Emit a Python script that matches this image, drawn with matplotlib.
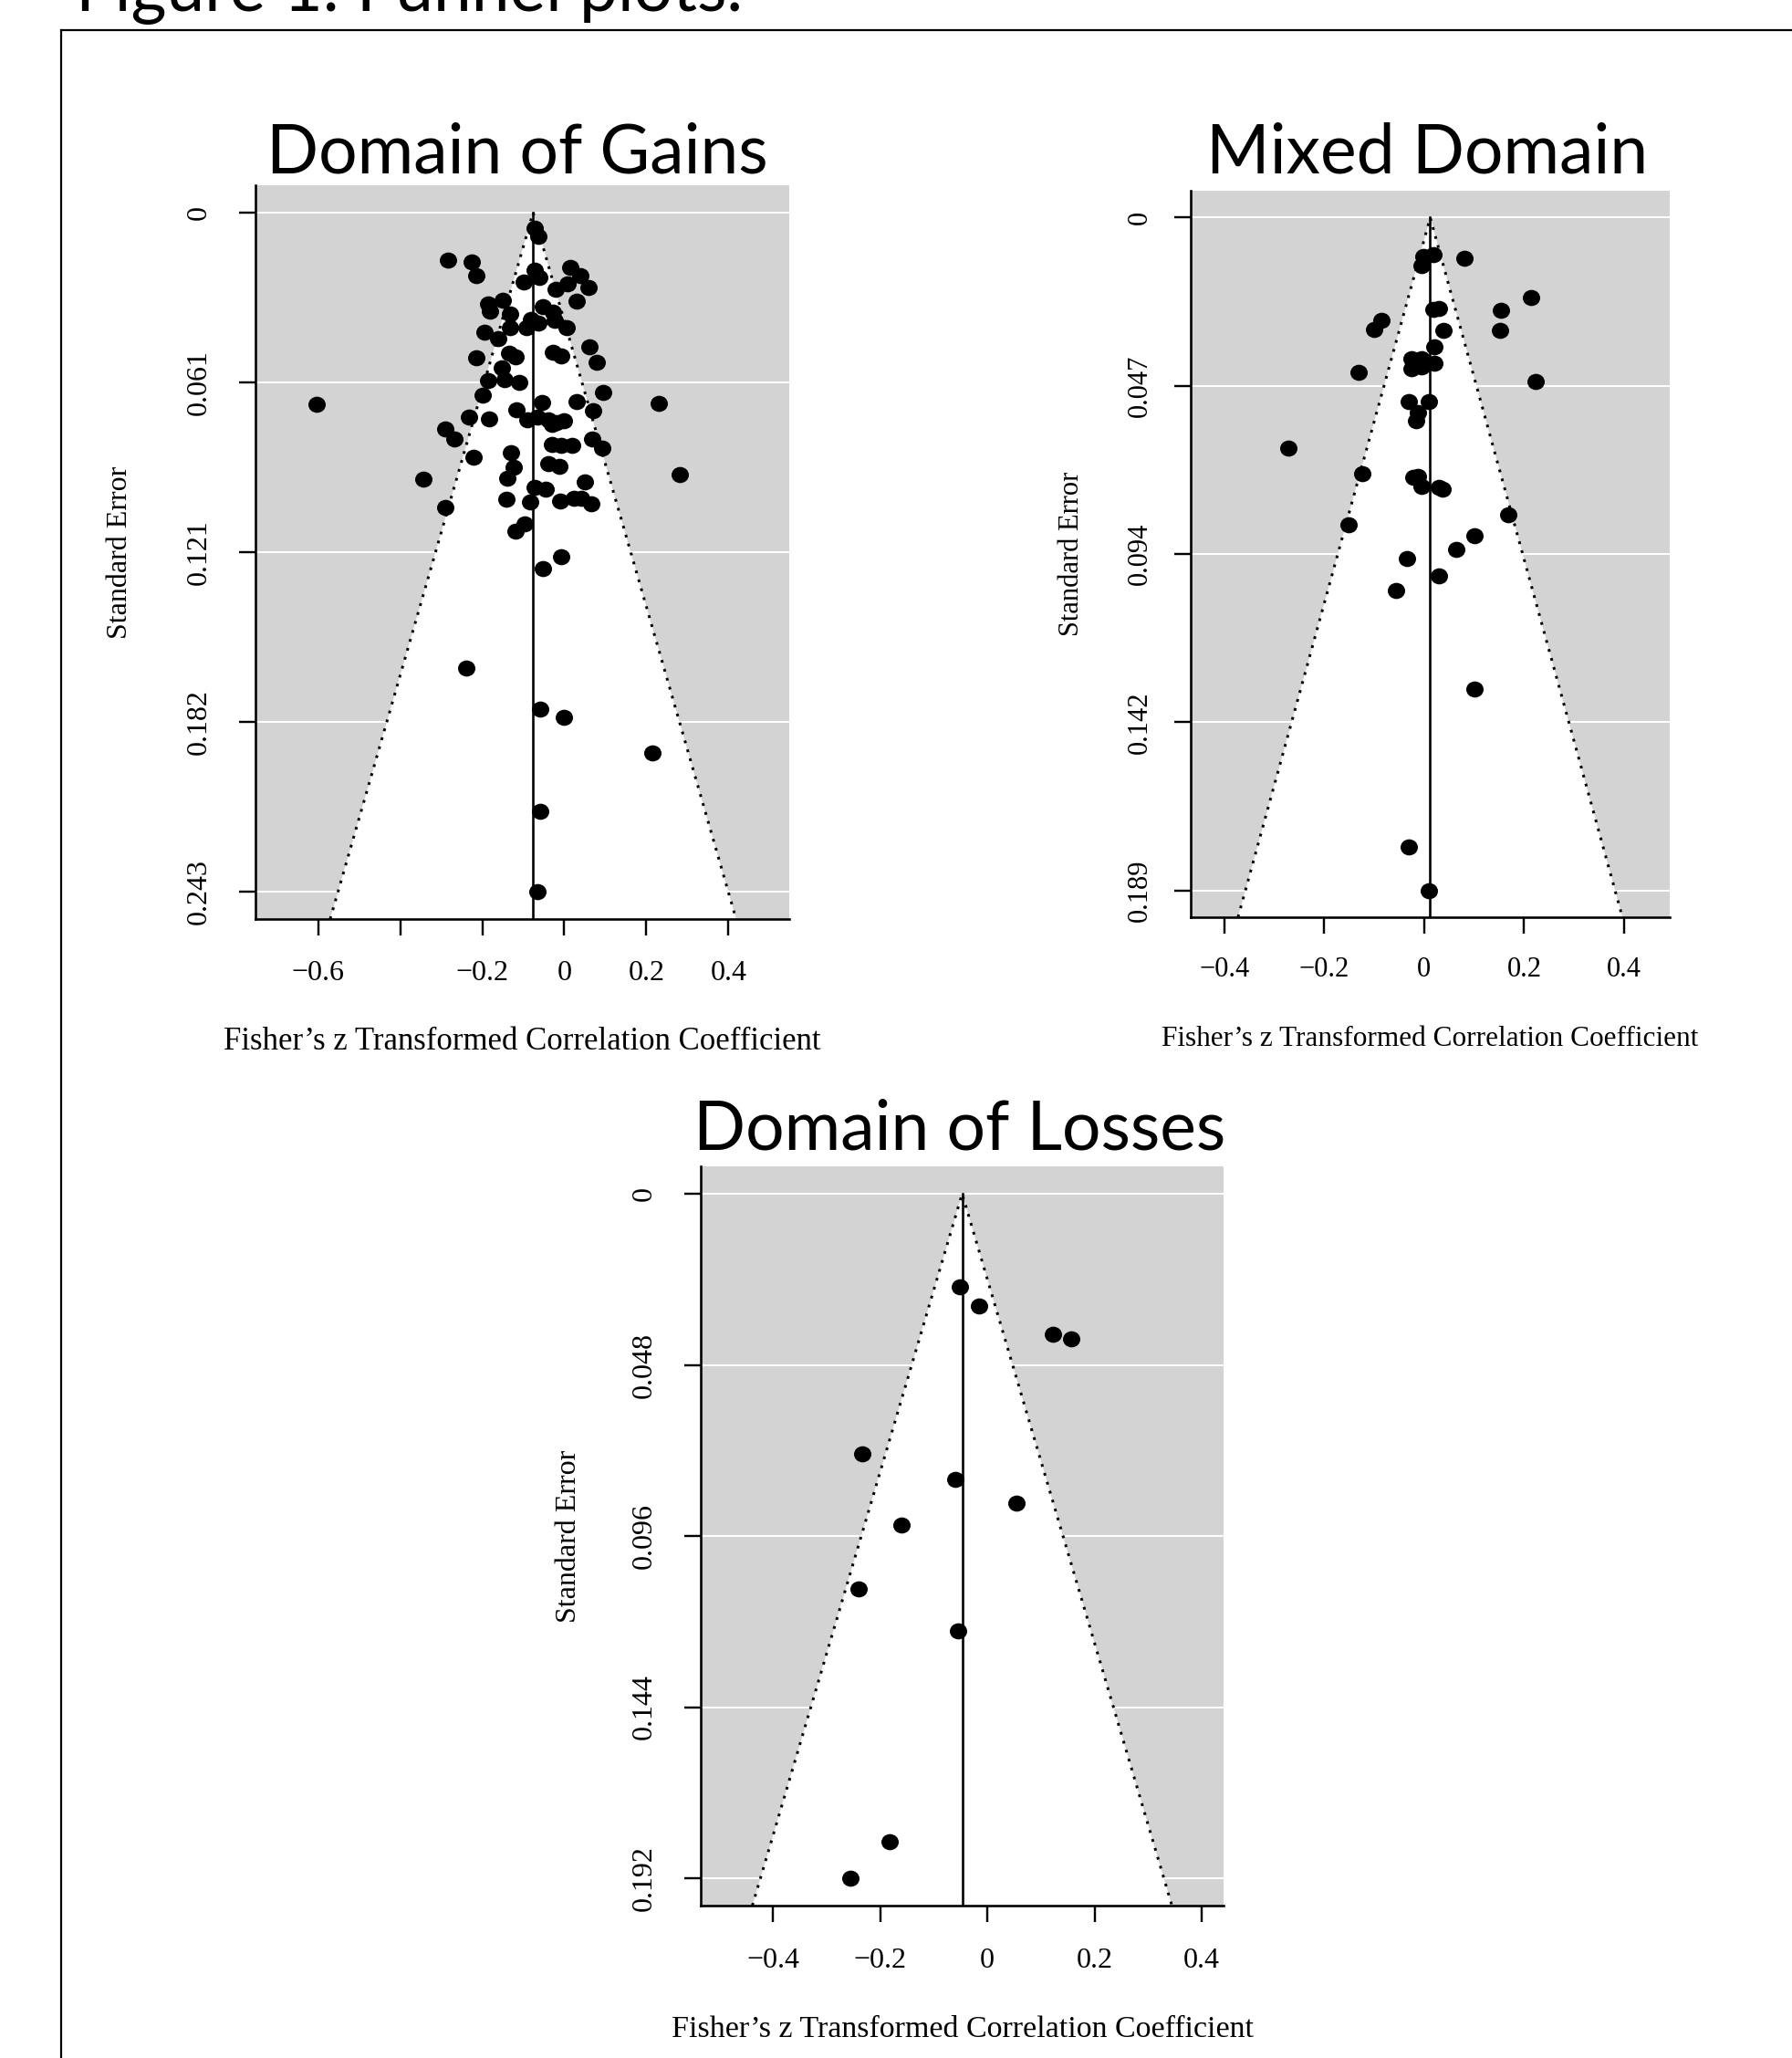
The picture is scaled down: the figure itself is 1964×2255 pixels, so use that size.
import numpy as np
import matplotlib
matplotlib.use("Agg")
import matplotlib.pyplot as plt
from matplotlib.path import Path
from matplotlib.transforms import Affine2D

# ---- data (Fisher's z, standard error) ----
gains_z = [-0.072, -0.063, -0.283, -0.226, -0.215, -0.072, -0.061, -0.098, 0.014, 0.040,
           0.058, 0.008, -0.020, 0.029, -0.185, -0.150, -0.181, -0.133, -0.052, -0.027,
           -0.081, -0.063, -0.092, -0.132, 0.005, -0.024, -0.195, -0.161, 0.062, 0.078,
           -0.027, -0.007, -0.215, -0.135, -0.118, -0.153, -0.185, -0.146, -0.111, 0.095,
           -0.198, -0.055, 0.030, 0.069, -0.116, -0.232, -0.183, -0.089, -0.066, -0.040,
           -0.018, 0.000, -0.030, -0.289, -0.267, 0.067, 0.093, -0.031, -0.007, 0.019,
           -0.222, -0.129, -0.040, -0.012, -0.123, -0.343, -0.139, 0.049, -0.072, -0.046,
           -0.142, -0.083, -0.011, 0.023, 0.041, 0.065, -0.291, -0.096, -0.118, -0.007,
           -0.052, -0.604, 0.230, 0.281, -0.240, -0.058, -0.002, 0.215, -0.058, -0.066]
gains_se = [0.0055, 0.0087, 0.0170, 0.0177, 0.0224, 0.0205, 0.0232, 0.0249, 0.0196, 0.0226,
            0.0267, 0.0256, 0.0275, 0.0317, 0.0325, 0.0315, 0.0354, 0.0361, 0.0338, 0.0357,
            0.0383, 0.0396, 0.0410, 0.0410, 0.0410, 0.0385, 0.0426, 0.0450, 0.0481, 0.0536,
            0.0500, 0.0511, 0.0519, 0.0503, 0.0514, 0.0556, 0.0601, 0.0598, 0.0607, 0.0642,
            0.0652, 0.0678, 0.0674, 0.0707, 0.0704, 0.0731, 0.0738, 0.0740, 0.0732, 0.0740,
            0.0750, 0.0743, 0.0758, 0.0773, 0.0809, 0.0809, 0.0841, 0.0830, 0.0833, 0.0831,
            0.0874, 0.0858, 0.0898, 0.0906, 0.0911, 0.0951, 0.0948, 0.0962, 0.0980, 0.0988,
            0.1024, 0.1035, 0.1030, 0.1022, 0.1022, 0.1041, 0.1052, 0.1111, 0.1137, 0.1229,
            0.1273, 0.0685, 0.0681, 0.0937, 0.1628, 0.1774, 0.1802, 0.1930, 0.2139, 0.2426]

mixed_z = [0.018, -0.001, -0.006, 0.080, 0.213, 0.153, 0.151, 0.018, 0.029, -0.086,
           -0.100, 0.039, 0.020, -0.025, -0.006, -0.025, -0.006, 0.020, -0.131, 0.223,
           -0.031, 0.010, -0.012, -0.017, -0.272, -0.124, -0.022, -0.012, -0.006, 0.029,
           0.037, 0.168, -0.151, 0.100, 0.064, -0.034, 0.029, -0.056, 0.100, -0.031, 0.010]
mixed_se = [0.0103, 0.0110, 0.0135, 0.0113, 0.0224, 0.0260, 0.0316, 0.0257, 0.0255, 0.0288,
            0.0314, 0.0317, 0.0362, 0.0396, 0.0395, 0.0423, 0.0419, 0.0408, 0.0435, 0.0459,
            0.0516, 0.0516, 0.0547, 0.0569, 0.0647, 0.0718, 0.0730, 0.0725, 0.0754, 0.0757,
            0.0762, 0.0833, 0.0862, 0.0894, 0.0932, 0.0957, 0.1005, 0.1047, 0.1323, 0.1765,
            0.1888]

losses_z = [-0.051, -0.015, 0.123, 0.157, -0.234, -0.060, 0.054, -0.160, -0.241, -0.054,
            -0.183, -0.255]
losses_se = [0.0260, 0.0316, 0.0394, 0.0407, 0.0729, 0.0801, 0.0868, 0.0929, 0.1109, 0.1226,
             0.1818, 0.1921]

# pooled estimates (reference lines)
gains_center = -0.076
mixed_center = 0.012
losses_center = -0.047

titles = ["Domain of Gains", "Mixed Domain", "Domain of Losses"]
gains_ylabels = ["0", "0.061", "0.121", "0.182", "0.243"]
mixed_ylabels = ["0", "0.047", "0.094", "0.142", "0.189"]
losses_ylabels = ["0", "0.048", "0.096", "0.144", "0.192"]
gains_xticks = [-0.6, -0.4, -0.2, 0, 0.2, 0.4]
gains_xlabels = ["\u22120.6", "", "\u22120.2", "0", "0.2", "0.4"]
other_xticks = [-0.4, -0.2, 0, 0.2, 0.4]
other_xlabels = ["\u22120.4", "\u22120.2", "0", "0.2", "0.4"]

W, H = 1965, 2255
SERIF = "Liberation Serif"
GRAY = "#d3d3d3"
PX = 72.0 / 100.0  # points per pixel

dot = Path.unit_circle().transformed(Affine2D().scale(1.0, 0.93))


def funnel(box, z, se, center, ylabels, xticks, xlabels, title, title_xy,
           tick_fs, label_fs, ypad_px, xpad_px, xlab_off, ylab_off):
    left, top, right, bottom = box
    ax = fig.add_axes([left / W, 1 - bottom / H, (right - left) / W, (bottom - top) / H])
    axw, axh = right - left, bottom - top
    z = np.asarray(z)
    se = np.asarray(se)
    se_max = se.max()

    # limits as metafor does it: funnel/data range + 10 %, then R's 4 %
    lo = min(center - 1.96 * se_max, z.min())
    hi = max(center + 1.96 * se_max, z.max())
    r = hi - lo
    lo, hi = lo - 0.1 * r, hi + 0.1 * r
    r = hi - lo
    ax.set_xlim(lo - 0.04 * r, hi + 0.04 * r)
    ybot = se_max * 1.04
    ax.set_ylim(ybot, -0.04 * se_max)

    ax.set_facecolor(GRAY)
    ax.fill([center, center - 1.96 * ybot, center + 1.96 * ybot],
            [0, ybot, ybot], color="white", lw=0, zorder=1)
    yt = np.linspace(0, se_max, 5)
    ax.hlines(yt, lo - r, hi + r, colors="white", lw=2 * PX, zorder=2)
    ax.plot([center - 1.96 * ybot, center, center + 1.96 * ybot], [ybot, 0, ybot],
            color="black", lw=3 * PX, ls=(0, (1, 2.4)), zorder=3)
    ax.plot([center, center], [0, ybot], color="black", lw=2.6 * PX, zorder=3)
    ax.scatter(z, se, s=(19 * PX) ** 2, marker=dot, color="black", lw=0, zorder=4,
               clip_on=False)

    for s in ("top", "right"):
        ax.spines[s].set_visible(False)
    for s in ("left", "bottom"):
        ax.spines[s].set_linewidth(2.6 * PX)
    ax.tick_params(axis="both", direction="out", length=18 * PX, width=2.4 * PX)
    ax.tick_params(axis="y", pad=(ypad_px - 18) * PX)
    ax.tick_params(axis="x", pad=(xpad_px - 18) * PX)

    ax.set_yticks(yt)
    ax.set_yticklabels(ylabels, rotation=90, va="center", ha="center",
                       family=SERIF, fontsize=tick_fs)
    ax.set_xticks(xticks)
    ax.set_xticklabels(xlabels, va="center", family=SERIF, fontsize=tick_fs)

    ax.set_xlabel("Fisher\u2019s z Transformed Correlation Coefficient",
                  family=SERIF, fontsize=label_fs, va="center")
    ax.xaxis.set_label_coords(0.5, -xlab_off / axh)
    ax.set_ylabel("Standard Error", family=SERIF, fontsize=tick_fs,
                  va="center", ha="center")
    ax.yaxis.set_label_coords(-ylab_off / axw, 0.5)

    fig.text(title_xy[0] / W, 1 - title_xy[1] / H, title, family="Lato",
             fontsize=54, ha="center", va="baseline")
    return ax


fig = plt.figure(figsize=(W / 100, H / 100), dpi=100)

fig.text(83 / W, 1 - 12 / H, "Figure 1. Funnel plots.", family="Lato",
         fontsize=54, ha="left", va="baseline")
# frame around the figure (clipped by the page)
fig.add_artist(plt.Line2D([67 / W, 1.0], [1 - 33 / H, 1 - 33 / H],
                          color="black", lw=2.2 * PX, transform=fig.transFigure))
fig.add_artist(plt.Line2D([67 / W, 67 / W], [1 - 33 / H, 0.0],
                          color="black", lw=2.2 * PX, transform=fig.transFigure))

funnel((280, 203, 865, 1007), gains_z, gains_se, gains_center, gains_ylabels,
       gains_xticks, gains_xlabels, titles[0], (567, 190),
       23, 25, 62, 59, 135, 148)
funnel((1305, 209, 1830, 1005), mixed_z, mixed_se, mixed_center, mixed_ylabels,
       other_xticks, other_xlabels, titles[1], (1564, 190),
       22, 22.5, 56, 57, 133, 130)
funnel((768, 1278, 1341, 2088), losses_z, losses_se, losses_center, losses_ylabels,
       other_xticks, other_xlabels, titles[2], (1052, 1260),
       23, 24.5, 62, 60, 136, 144)

fig.savefig("out.png", dpi=100, facecolor="white")
